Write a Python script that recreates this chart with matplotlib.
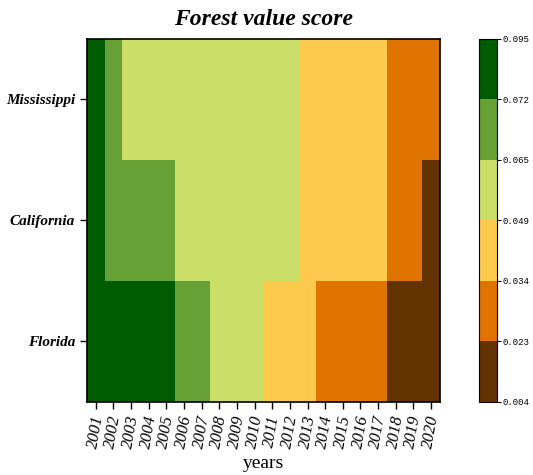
import numpy as np
import matplotlib
matplotlib.use("Agg")
import matplotlib.pyplot as plt
from matplotlib.colors import ListedColormap, BoundaryNorm

years = [str(y) for y in range(2001, 2021)]
states = ["Mississippi", "California", "Florida"]

mississippi = [0.081, 0.068, 0.058, 0.057, 0.056, 0.055, 0.055, 0.054, 0.053, 0.052,
               0.051, 0.050, 0.045, 0.043, 0.041, 0.039, 0.036, 0.031, 0.028, 0.026]
california = [0.080, 0.069, 0.068, 0.067, 0.066, 0.063, 0.061, 0.059, 0.057, 0.055,
              0.053, 0.051, 0.047, 0.044, 0.041, 0.038, 0.035, 0.030, 0.025, 0.020]
florida = [0.088, 0.085, 0.082, 0.078, 0.074, 0.070, 0.067, 0.062, 0.057, 0.052,
           0.047, 0.042, 0.037, 0.032, 0.030, 0.028, 0.025, 0.020, 0.015, 0.010]

bounds = [0.004, 0.023, 0.034, 0.049, 0.065, 0.072, 0.095]
colors = ["#623300", "#e07400", "#fdca4e", "#cbde67", "#67a034", "#005c00"]

data = np.array([mississippi, california, florida])

cmap = ListedColormap(colors)
norm = BoundaryNorm(bounds, cmap.N)

fig = plt.figure(figsize=(5.33, 4.75), dpi=100)
ax = fig.add_axes([0.163, 0.1537, 0.6623, 0.7642])
cax = fig.add_axes([0.8987, 0.1537, 0.0338, 0.7642])

mesh = ax.pcolormesh(data, cmap=cmap, norm=norm)
ax.set_xlim(0, len(years))
ax.set_ylim(len(states), 0)

ax.set_xticks(np.arange(len(years)) + 0.5)
ax.set_xticklabels(years, rotation=80, fontsize=12, fontstyle="italic",
                   family="Liberation Serif")
ax.set_yticks(np.arange(len(states)) + 0.5)
ax.set_yticklabels(states, fontsize=11, fontstyle="italic", fontweight="bold",
                   family="Liberation Serif")
ax.tick_params(length=5, width=1)
ax.set_xlabel("years", fontsize=14, family="Liberation Serif", labelpad=4)
ax.set_title("Forest value score", fontsize=17, fontstyle="italic", fontweight="bold",
             family="Liberation Serif", pad=10)
for s in ax.spines.values():
    s.set_linewidth(1.2)

cb = fig.colorbar(mesh, cax=cax, ticks=bounds, spacing="uniform")
cb.ax.set_yticklabels([f"{b:.3f}" for b in bounds], fontsize=6.5,
                      family="Liberation Mono")
cb.ax.tick_params(length=3, width=0.8, pad=1)
cb.outline.set_linewidth(0.8)

fig.savefig("out.png", dpi=100)
